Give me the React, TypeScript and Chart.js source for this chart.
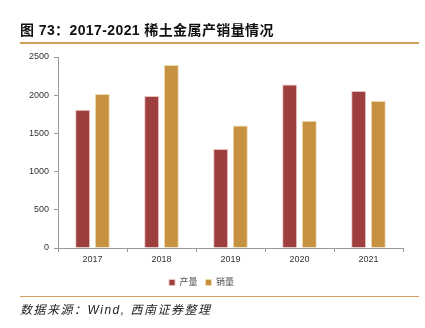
import React, { useEffect, useRef } from "react";
import { Chart, registerables } from "chart.js";

Chart.register(...registerables);

const years = ["2017", "2018", "2019", "2020", "2021"];
const production = [1810, 1990, 1295, 2140, 2055];
const sales = [2015, 2395, 1605, 1665, 1925];
const seriesNames = ["产量", "销量"];
const yTicks = [0, 500, 1000, 1500, 2000, 2500];

const FONT = "'Liberation Sans', Arial, 'Noto Sans CJK SC', sans-serif";

export default function App() {
  const ref = useRef<HTMLCanvasElement | null>(null);

  useEffect(() => {
    document.body.style.margin = "0";
    const ctx = ref.current!;
    const chart = new Chart(ctx, {
      type: "bar",
      data: {
        labels: years,
        datasets: [
          {
            label: seriesNames[0],
            data: production,
            backgroundColor: "#9E3F3F",
            borderColor: "#E9C3C0",
            borderWidth: 1,
            categoryPercentage: 0.57,
            barPercentage: 0.76,
          },
          {
            label: seriesNames[1],
            data: sales,
            backgroundColor: "#C69241",
            borderColor: "#EFD9AE",
            borderWidth: 1,
            categoryPercentage: 0.57,
            barPercentage: 0.76,
          },
        ],
      },
      options: {
        animation: false,
        responsive: false,
        maintainAspectRatio: false,
        layout: { padding: { left: 0, right: 22, top: 57, bottom: 31 } },
        plugins: {
          tooltip: { enabled: false },
          legend: {
            display: true,
            position: "bottom",
            labels: {
              boxWidth: 6,
              boxHeight: 6,
              padding: 8,
              color: "#555",
              font: { size: 9, family: FONT },
            },
          },
        },
        scales: {
          x: {
            afterFit: (s: any) => {
              s.height = 22;
            },
            grid: {
              display: true,
              drawOnChartArea: false,
              drawTicks: true,
              tickLength: 4,
              color: "#999",
              offset: true,
            },
            border: { display: true, color: "#999", width: 1 },
            ticks: {
              color: "#333",
              font: { size: 9, family: FONT },
              padding: 2,
            },
          },
          y: {
            min: 0,
            max: 2500,
            afterFit: (s: any) => {
              s.width = 58;
            },
            afterBuildTicks: (s: any) => {
              s.ticks = yTicks.map((v) => ({ value: v }));
            },
            grid: {
              display: true,
              drawOnChartArea: false,
              drawTicks: true,
              tickLength: 4,
              color: "#999",
            },
            border: { display: true, color: "#999", width: 1 },
            ticks: {
              color: "#333",
              font: { size: 9, family: FONT },
              padding: 5,
              callback: (v: any) => String(v),
            },
          },
        },
      },
    });
    return () => chart.destroy();
  }, []);

  return (
    <div style={{ position: "relative", width: 425, height: 328, background: "#fff", overflow: "hidden" }}>
      <canvas ref={ref} width={425} height={328} style={{ position: "absolute", left: 0, top: 0 }} />
      <div
        style={{
          position: "absolute",
          left: 20,
          top: 21,
          fontFamily: FONT,
          fontWeight: "bold",
          fontSize: 14,
          color: "#111",
          whiteSpace: "nowrap",
          lineHeight: "18px",
          letterSpacing: 0.4,
        }}
      >
        图 73：2017-2021 稀土金属产销量情况
      </div>
      <div style={{ position: "absolute", left: 20, top: 42, width: 399, height: 2, background: "#D3A057" }} />
      <div style={{ position: "absolute", left: 20, top: 296, width: 399, height: 1, background: "#D3A057" }} />
      <div
        style={{
          position: "absolute",
          left: 20,
          top: 302,
          fontFamily: FONT,
          fontStyle: "italic",
          fontSize: 12,
          color: "#222",
          whiteSpace: "nowrap",
          letterSpacing: 1.5,
          lineHeight: "16px",
        }}
      >
        数据来源：Wind, 西南证券整理
      </div>
    </div>
  );
}
